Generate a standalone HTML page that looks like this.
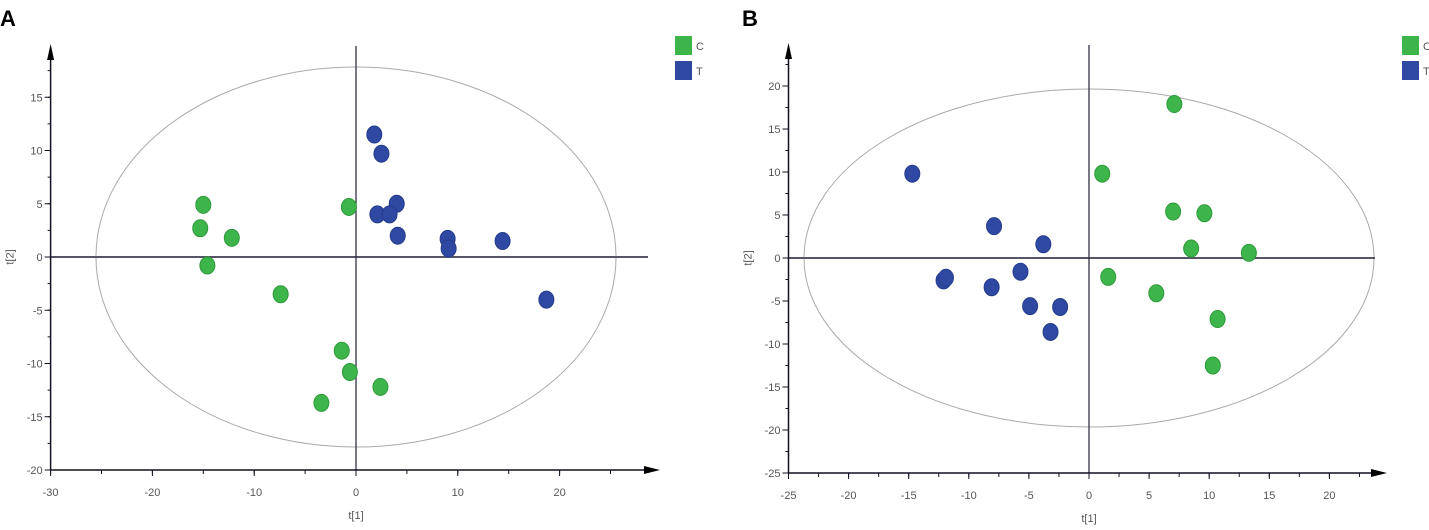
<!DOCTYPE html>
<html><head><meta charset="utf-8"><style>
body{margin:0;background:#fff;width:1429px;height:525px;overflow:hidden;font-family:"Liberation Sans",sans-serif}
svg text{font-family:"Liberation Sans",sans-serif}
</style></head><body>
<svg id="s" width="1429" height="525"></svg>
<script>
const aGreenX=[-15,-15.3,-12.2,-14.6,-7.4,-0.7,-1.4,-0.6,2.4,-3.4];
const aGreenY=[4.9,2.7,1.8,-0.8,-3.5,4.7,-8.8,-10.8,-12.2,-13.7];
const aBlueX=[1.8,2.5,4,2.1,3.3,4.1,9,9.1,14.4,18.7];
const aBlueY=[11.5,9.7,5,4,4,2,1.7,0.8,1.5,-4];
const bGreenX=[7.1,1.1,7,9.6,8.5,13.3,1.6,5.6,10.7,10.3];
const bGreenY=[17.9,9.8,5.4,5.2,1.1,0.6,-2.2,-4.1,-7.1,-12.5];
const bBlueX=[-14.7,-7.9,-3.8,-5.7,-12.1,-11.9,-8.1,-4.9,-2.4,-3.2];
const bBlueY=[9.8,3.7,1.6,-1.6,-2.6,-2.3,-3.4,-5.6,-5.7,-8.6];
const aXTicks=[-30,-20,-10,0,10,20];
const aYTicks=[-20,-15,-10,-5,0,5,10,15];
const bXTicks=[-25,-20,-15,-10,-5,0,5,10,15,20];
const bYTicks=[-25,-20,-15,-10,-5,0,5,10,15,20];
const NS="http://www.w3.org/2000/svg";
const svg=document.getElementById('s');
function mk(t,a,p){const e=document.createElementNS(NS,t);for(const k in a)e.setAttribute(k,a[k]);(p||svg).appendChild(e);return e;}
function panel(o){
 const g=mk('g',{});
 
 
 const X=v=>o.x0+v*o.kx, Y=v=>o.y0-v*o.ky;
 const xl=X(o.xmin), yb=Y(o.ymin);
 const lbl=mk('text',{x:o.lx,y:26,'font-size':22,'font-weight':'bold',fill:'#000'},g);lbl.textContent=o.letter;
 
 const el=mk('ellipse',{cx:X(0),cy:Y(0),rx:o.rx,ry:o.ry,fill:'none',stroke:'#aaa','stroke-width':1},g);
 
 const h=mk('line',{x1:xl,x2:o.xend,y1:Y(0),y2:Y(0),stroke:'#556',"stroke-width":2},g);
 
 const v=mk('line',{x1:X(0),x2:X(0),y1:o.ytop+2,y2:yb,stroke:'#334','stroke-width':1.3},g);
 
 const ya=mk('line',{x1:xl,x2:xl,y1:o.ytop+10,y2:yb,stroke:'#112','stroke-width':1.5},g);
 
 mk('polygon',{points:`${xl-3.5},${o.ytop+16} ${xl+3.5},${o.ytop+16} ${xl},${o.ytop}`,fill:'#000'},g);
 const xa=mk('line',{x1:xl,x2:o.xend,y1:yb,y2:yb,stroke:'#112','stroke-width':1.5},g);
 
 mk('polygon',{points:`${o.xend-4},${yb-4} ${o.xend-4},${yb+4} ${o.xend+12},${yb}`,fill:'#000'},g);
 for(let t=o.xmin;t<=o.xmax+0.01;t+=o.xminor){mk('line',{x1:X(t),x2:X(t),y1:yb,y2:yb+4,stroke:'#112'},g);}
 for(let t=o.ymin;t<=o.ymax+0.01;t+=o.yminor){mk('line',{x1:xl-3,x2:xl,y1:Y(t),y2:Y(t),stroke:'#112'},g);}
 o.xt.forEach(t=>{mk('line',{x1:X(t),x2:X(t),y1:yb,y2:yb+6,stroke:'#112'},g);
  const tx=mk('text',{x:X(t),y:yb+26,'font-size':11,'text-anchor':'middle',fill:'#555'},g);tx.textContent=t;
  });
 o.yt.forEach(t=>{mk('line',{x1:xl-6,x2:xl,y1:Y(t),y2:Y(t),stroke:'#112'},g);
  const tx=mk('text',{x:xl-8,y:Y(t)+4,'font-size':11,'text-anchor':'end',fill:'#555'},g);tx.textContent=t;
  });
 const xt=mk('text',{x:X(0),y:yb+49,'font-size':11,'text-anchor':'middle',fill:'#555'},g);xt.textContent='t[1]';
 
 const yt=mk('text',{x:0,y:0,'font-size':11,'text-anchor':'middle',fill:'#555',transform:`translate(${xl-37},${Y(0)}) rotate(-90)`},g);yt.textContent='t[2]';
 
 const pts=(xs,ys,c,s,n)=>xs.forEach((x,i)=>{const p=mk('ellipse',{cx:X(x),cy:Y(ys[i]),rx:7.5,ry:8.5,fill:c,stroke:s,'stroke-width':1},g);
  });
 pts(o.gx,o.gy,'#3db54a','#2e9a3c','point-c');
 pts(o.bx,o.by,'#2f48a2','#263c8c','point-t');
 [['C','#3db54a',36],['T','#2f48a2',61]].forEach(([t,c,y])=>{
  const r=mk('rect',{x:o.legx,y:y,width:17,height:19,fill:c},g);
  
  const tx=mk('text',{x:o.legx+21,y:y+14,'font-size':11,fill:'#555'},g);tx.textContent=t;
  });
}
panel({name:'panel-a',letter:'A',lx:0,x0:356,kx:10.18,y0:257,ky:10.65,xmin:-30,xmax:25,ymin:-20,ymax:17.5,xminor:5,yminor:2.5,
 xend:648,ytop:44,rx:260,ry:190,xt:aXTicks,yt:aYTicks,gx:aGreenX,gy:aGreenY,bx:aBlueX,by:aBlueY,legx:675});
panel({name:'panel-b',letter:'B',lx:742,x0:1089,kx:12.02,y0:258,ky:8.6,xmin:-25,xmax:22.5,ymin:-25,ymax:22.5,xminor:2.5,yminor:2.5,
 xend:1375,ytop:43,rx:285,ry:169,xt:bXTicks,yt:bYTicks,gx:bGreenX,gy:bGreenY,bx:bBlueX,by:bBlueY,legx:1402});
</script>
</body></html>
